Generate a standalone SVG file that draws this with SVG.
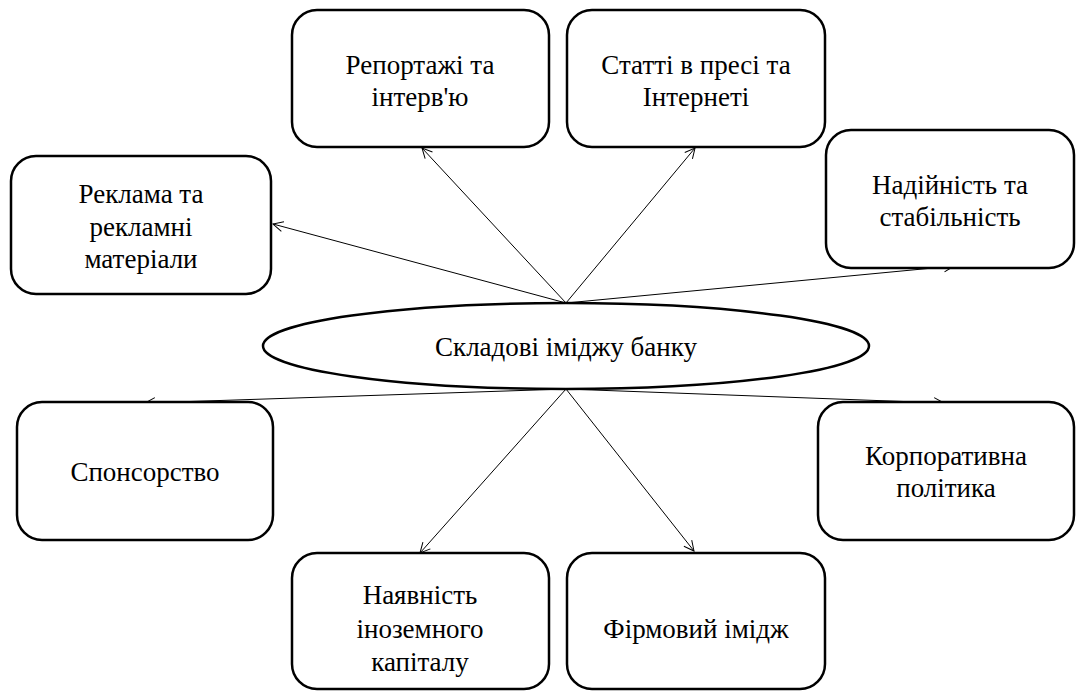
<svg xmlns="http://www.w3.org/2000/svg" width="1077" height="691" viewBox="0 0 1077 691">
<defs>
<style>
.box{fill:#fff;stroke:#000;stroke-width:2.5}
text{font-family:"Liberation Serif","Times New Roman",serif;font-size:27px;fill:#000;text-anchor:middle}
</style>
<marker id="ah" viewBox="0 0 12 12" refX="11" refY="6" markerWidth="12" markerHeight="12" markerUnits="userSpaceOnUse" orient="auto">
<path d="M1,1 L11,6 L1,11" fill="none" stroke="#000" stroke-width="1"/>
</marker>
</defs>
<rect width="1077" height="691" fill="#fff"/>
<g id="connectors" stroke="#000" stroke-width="1" fill="none">
<line x1="566" y1="303" x2="273" y2="224" marker-end="url(#ah)"/>
<line x1="566" y1="303" x2="422" y2="148" marker-end="url(#ah)"/>
<line x1="566" y1="303" x2="695" y2="148" marker-end="url(#ah)"/>
<line x1="566" y1="303" x2="954" y2="266" marker-end="url(#ah)"/>
<line x1="566" y1="389" x2="145" y2="403" marker-end="url(#ah)"/>
<line x1="566" y1="389" x2="944" y2="403" marker-end="url(#ah)"/>
<line x1="566" y1="389" x2="420" y2="553" marker-end="url(#ah)"/>
<line x1="566" y1="389" x2="694" y2="551" marker-end="url(#ah)"/>
</g>
<g id="center">
<ellipse cx="566" cy="346" rx="303" ry="43" fill="#fff" stroke="#000" stroke-width="2.5"/>
<text x="566" y="356">Складові іміджу банку</text>
</g>
<g id="n-reportazhi">
<rect class="box" x="292" y="10" width="257" height="137" rx="25"/>
<text x="420" y="74">Репортажі та</text>
<text x="420" y="106">інтерв'ю</text>
</g>
<g id="n-statti">
<rect class="box" x="567" y="10" width="258" height="137" rx="25"/>
<text x="696" y="74">Статті в пресі та</text>
<text x="696" y="106">Інтернеті</text>
</g>
<g id="n-reklama">
<rect class="box" x="11" y="156" width="260" height="138" rx="25"/>
<text x="141" y="203">Реклама та</text>
<text x="141" y="236">рекламні</text>
<text x="141" y="268">матеріали</text>
</g>
<g id="n-nadiinist">
<rect class="box" x="826" y="130" width="248" height="138" rx="25"/>
<text x="950" y="194">Надійність та</text>
<text x="950" y="226">стабільність</text>
</g>
<g id="n-sponsorstvo">
<rect class="box" x="17" y="402" width="256" height="138" rx="25"/>
<text x="145" y="481">Спонсорство</text>
</g>
<g id="n-korporatyvna">
<rect class="box" x="818" y="402" width="256" height="138" rx="25"/>
<text x="946" y="465">Корпоративна</text>
<text x="946" y="497">політика</text>
</g>
<g id="n-nayavnist">
<rect class="box" x="292" y="553" width="257" height="136" rx="25"/>
<text x="420" y="604">Наявність</text>
<text x="420" y="638">іноземного</text>
<text x="420" y="671">капіталу</text>
</g>
<g id="n-firmovyi">
<rect class="box" x="567" y="553" width="258" height="136" rx="25"/>
<text x="696" y="638">Фірмовий імідж</text>
</g>
</svg>
